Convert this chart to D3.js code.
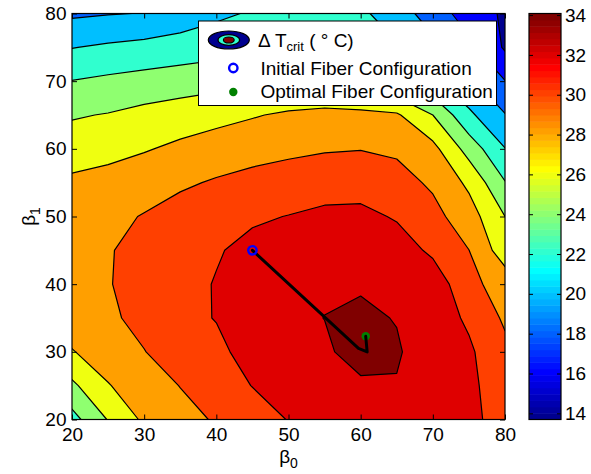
<!DOCTYPE html>
<html>
<head>
<meta charset="utf-8">
<script src="https://cdn.jsdelivr.net/npm/d3@7"></script>
<style>
  body { margin: 0; background: #fff; }
  text { font-family: "Liberation Sans", Arial, Helvetica, sans-serif; fill: #000; }
</style>
</head>
<body>
<svg id="chart" width="591" height="474"></svg>
<script>
// grid of the sweep: beta_0 across, beta_1 up (deg)
const beta0 = [20, 25, 30, 35, 40, 45, 50, 55, 60, 65, 70, 75, 80];
const beta1 = [20, 25, 30, 35, 40, 45, 50, 55, 60, 65, 70, 75, 80];

// Delta T_crit (deg C) on that grid, one row per beta_1 (bottom row first)
const deltaT = [
  [21.3, 24.1, 26.36, 27.3, 28.2, 29.0, 30.08, 30.8, 31.0, 31.2, 31.0, 30.4, 29.35],
  [23.6, 25.9, 27.0, 28.05, 29.0, 30.05, 30.6, 31.0, 31.23, 31.83, 31.2, 30.4, 29.0],
  [25.9, 26.9, 27.95, 28.9, 29.4, 30.98, 31.1, 31.3, 33.8, 32.3, 30.4, 30.3, 28.5],
  [27.0, 27.7, 28.5, 29.3, 30.1, 30.7, 31.0, 32.05, 32.5, 31.88, 31.0, 29.7, 27.7],
  [27.5, 27.9, 28.7, 29.4, 30.1, 30.9, 31.3, 31.48, 31.73, 31.5, 31.25, 28.5, 27.2],
  [27.6, 27.85, 28.7, 29.3, 29.85, 30.5, 31.0, 31.4, 31.5, 31.05, 29.6, 28.02, 24.9],
  [27.3, 27.55, 28.1, 28.8, 29.3, 29.75, 30.05, 30.45, 30.55, 29.8, 28.6, 26.9, 24.0],
  [26.4, 26.8, 27.2, 27.7, 28.2, 28.6, 28.9, 29.1, 29.1, 28.7, 27.7, 25.6, 22.1],
  [24.97, 25.3, 25.85, 26.4, 26.9, 27.3, 27.6, 27.85, 27.95, 27.7, 26.6, 23.2, 20.05],
  [23.83, 24.1, 24.6, 25.0, 25.4, 25.85, 26.3, 26.6, 26.5, 26.25, 24.0, 20.4, 18.1],
  [22.05, 22.4, 22.7, 23.0, 23.3, 23.6, 23.8, 23.7, 23.2, 22.0, 20.3, 18.4, 16.05],
  [19.94, 20.3, 20.6, 20.9, 21.2, 21.5, 21.6, 21.4, 20.9, 20.2, 18.6, 16.5, 13.75],
  [17.68, 17.9, 18.05, 18.8, 19.6, 20.2, 20.5, 20.4, 20.35, 19.0, 17.0, 15.1, 13.69]
];

const levels = [14, 16, 18, 20, 22, 24, 26, 28, 30, 32];
// jet(64) index used for each filled band (below 14, 14-16, ..., above 32)
const bandJet = [1, 8, 14, 20, 27, 33, 39, 46, 52, 58, 64];

// optimiser path, initial -> optimal
const pathB0 = [45, 59.7, 60.9, 60.7];
const pathB1 = [45, 30.5, 30.0, 32.3];

const axisTicks = [20, 30, 40, 50, 60, 70, 80];
const cbarTicks = [14, 16, 18, 20, 22, 24, 26, 28, 30, 32, 34];
const cbarRange = [13.69, 34.08];

const legendLabels = ['Initial Fiber Configuration', 'Optimal Fiber Configuration'];

const PLOT = { left: 72, right: 505, top: 13.5, bottom: 419.5 };
const CBAR = { left: 529, right: 561 };

// MATLAB jet(64), i = 1..64
function jet(i) {
  const r = i <= 24 ? 0 : i <= 40 ? (i - 24) / 16 : i <= 56 ? 1 : (72 - i) / 16;
  const g = i <= 8 ? 0 : i <= 24 ? (i - 8) / 16 : i <= 40 ? 1 : i <= 56 ? (56 - i) / 16 : 0;
  const b = i <= 8 ? (i + 8) / 16 : i <= 24 ? 1 : i <= 40 ? (40 - i) / 16 : 0;
  return d3.rgb(r * 255, g * 255, b * 255).formatHex();
}

const svg = d3.select('#chart');

const x = d3.scaleLinear().domain([20, 80]).range([PLOT.left, PLOT.right]);
const y = d3.scaleLinear().domain([20, 80]).range([PLOT.bottom, PLOT.top]);

svg.append('defs').append('clipPath').attr('id', 'plot-clip')
  .append('rect')
  .attr('x', PLOT.left).attr('y', PLOT.top)
  .attr('width', PLOT.right - PLOT.left).attr('height', PLOT.bottom - PLOT.top);

// ---- filled contours ----
const nx = beta0.length, ny = beta1.length;
// d3.contours puts value i at pixel centre i + 0.5
const gx = d3.scaleLinear().domain([0.5, nx - 0.5]).range([x(beta0[0]), x(beta0[nx - 1])]);
const gy = d3.scaleLinear().domain([0.5, ny - 0.5]).range([y(beta1[0]), y(beta1[ny - 1])]);
const proj = d3.geoTransform({
  point(px, py) { this.stream.point(gx(px), gy(py)); }
});
const geo = d3.geoPath(proj);

const bands = d3.contours().size([nx, ny]).thresholds(levels)(deltaT.flat());

const cg = svg.append('g').attr('clip-path', 'url(#plot-clip)');
cg.append('rect')
  .attr('x', PLOT.left).attr('y', PLOT.top)
  .attr('width', PLOT.right - PLOT.left).attr('height', PLOT.bottom - PLOT.top)
  .attr('fill', jet(bandJet[0]));

cg.selectAll('path.band')
  .data(bands)
  .join('path')
  .attr('class', 'band')
  .attr('d', geo)
  .attr('fill', (d, i) => jet(bandJet[i + 1]))
  .attr('stroke', '#000')
  .attr('stroke-width', 1.2)
  .attr('stroke-linejoin', 'round');

// ---- optimiser path + markers ----
const pts = pathB0.map((b, i) => [b, pathB1[i]]);
const last = pts[pts.length - 1];

svg.append('circle')
  .attr('cx', x(last[0])).attr('cy', y(last[1])).attr('r', 4.2)
  .attr('fill', '#008000');

svg.append('path')
  .datum(pts)
  .attr('d', d3.line().x(d => x(d[0])).y(d => y(d[1])))
  .attr('fill', 'none')
  .attr('stroke', '#000')
  .attr('stroke-width', 3)
  .attr('stroke-linejoin', 'round')
  .attr('stroke-linecap', 'round');

svg.append('circle')
  .attr('cx', x(pts[0][0])).attr('cy', y(pts[0][1])).attr('r', 4.2)
  .attr('fill', 'none')
  .attr('stroke', '#0000ff')
  .attr('stroke-width', 2.4);

// ---- axes, ticks inside on all four sides ----
const fontSize = 19;
const styleAxis = g => {
  g.select('.domain').remove();
  g.selectAll('.tick line').attr('stroke', '#000');
  g.selectAll('.tick text').attr('font-size', fontSize).attr('fill', '#000')
    .style('font-family', '"Liberation Sans", Arial, sans-serif');
};

svg.append('g').attr('transform', `translate(0,${PLOT.bottom})`)
  .call(d3.axisBottom(x).tickValues(axisTicks).tickSize(-5).tickPadding(8))
  .call(styleAxis);
svg.append('g').attr('transform', `translate(0,${PLOT.top})`)
  .call(d3.axisTop(x).tickValues(axisTicks).tickSize(-5).tickFormat(''))
  .call(styleAxis);
svg.append('g').attr('transform', `translate(${PLOT.left},0)`)
  .call(d3.axisLeft(y).tickValues(axisTicks).tickSize(-5).tickPadding(5.5))
  .call(styleAxis);
svg.append('g').attr('transform', `translate(${PLOT.right},0)`)
  .call(d3.axisRight(y).tickValues(axisTicks).tickSize(-5).tickFormat(''))
  .call(styleAxis);

svg.append('rect')
  .attr('x', PLOT.left).attr('y', PLOT.top)
  .attr('width', PLOT.right - PLOT.left).attr('height', PLOT.bottom - PLOT.top)
  .attr('fill', 'none').attr('stroke', '#000').attr('stroke-width', 1.2);

// axis labels
const xl = svg.append('text')
  .attr('x', (PLOT.left + PLOT.right) / 2).attr('y', 463)
  .attr('text-anchor', 'middle').attr('font-size', 19);
xl.append('tspan').text('β');
xl.append('tspan').attr('font-size', 14).attr('dy', 5).text('0');

const yl = svg.append('text')
  .attr('transform', `translate(35,${(PLOT.top + PLOT.bottom) / 2}) rotate(-90)`)
  .attr('text-anchor', 'middle').attr('font-size', 19);
yl.append('tspan').text('β');
yl.append('tspan').attr('font-size', 14).attr('dy', 5).text('1');

// ---- colorbar ----
const cy = d3.scaleLinear().domain(cbarRange).range([PLOT.bottom, PLOT.top]);
const cstep = (cbarRange[1] - cbarRange[0]) / 64;
svg.append('g').selectAll('rect')
  .data(d3.range(64))
  .join('rect')
  .attr('x', CBAR.left)
  .attr('width', CBAR.right - CBAR.left)
  .attr('y', k => cy(cbarRange[0] + (k + 1) * cstep))
  .attr('height', k => cy(cbarRange[0] + k * cstep) - cy(cbarRange[0] + (k + 1) * cstep) + 0.5)
  .attr('fill', k => jet(k + 1));

svg.append('g').attr('transform', `translate(${CBAR.right},0)`)
  .call(d3.axisRight(cy).tickValues(cbarTicks).tickSize(-4).tickPadding(4))
  .call(styleAxis);
svg.append('g').attr('transform', `translate(${CBAR.left},0)`)
  .call(d3.axisLeft(cy).tickValues(cbarTicks).tickSize(-4).tickFormat(''))
  .call(styleAxis);
svg.append('rect')
  .attr('x', CBAR.left).attr('y', PLOT.top)
  .attr('width', CBAR.right - CBAR.left).attr('height', PLOT.bottom - PLOT.top)
  .attr('fill', 'none').attr('stroke', '#000').attr('stroke-width', 1.2);

// ---- legend ----
const lg = svg.append('g');
lg.append('rect')
  .attr('x', 198.5).attr('y', 21).attr('width', 298).attr('height', 84.5)
  .attr('fill', '#fff').attr('stroke', '#000').attr('stroke-width', 1);

[[20.5, 9, 1], [10.8, 5.3, 27], [5.4, 3, 64]].forEach(([rx, ry, j]) => {
  lg.append('ellipse')
    .attr('cx', 228.8).attr('cy', 40).attr('rx', rx).attr('ry', ry)
    .attr('fill', jet(j))
    .attr('stroke', '#000').attr('stroke-width', 1.2);
});

const t1 = lg.append('text').attr('x', 258).attr('y', 46.5).attr('font-size', fontSize);
t1.append('tspan').text('Δ T');
t1.append('tspan').attr('font-size', 13).attr('dy', 4).text('crit');
t1.append('tspan').attr('dy', -4).text(' ( ° C)');

lg.append('circle')
  .attr('cx', 233.3).attr('cy', 68).attr('r', 4.2)
  .attr('fill', 'none').attr('stroke', '#0000ff').attr('stroke-width', 2.4);
lg.append('circle')
  .attr('cx', 233.3).attr('cy', 92).attr('r', 4.2)
  .attr('fill', '#008000');

legendLabels.forEach((s, i) => {
  lg.append('text')
    .attr('x', 260.5).attr('y', 75 + i * 23)
    .attr('font-size', fontSize)
    .text(s);
});
</script>
</body>
</html>
